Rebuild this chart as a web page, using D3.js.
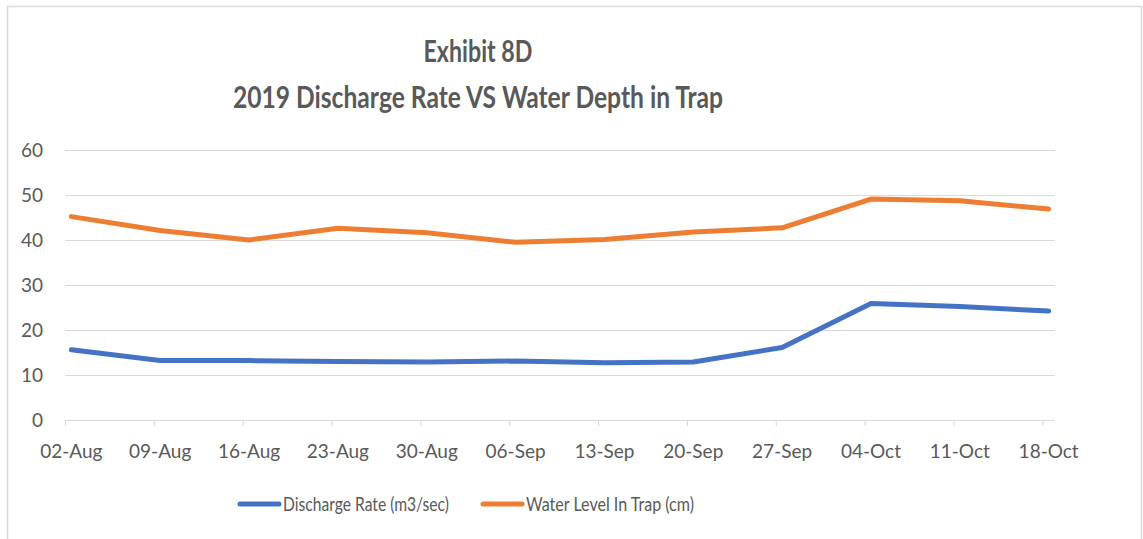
<!DOCTYPE html>
<html>
<head>
<meta charset="utf-8">
<script src="https://cdn.jsdelivr.net/npm/d3@7"></script>
<style>
  body { margin: 0; background: #fff; }
  text { font-family: Lato, sans-serif; fill: #595959; }
</style>
</head>
<body>
<div id="chart"></div>
<script>
var dates = ['2019-08-02','2019-08-09','2019-08-16','2019-08-23','2019-08-30','2019-09-06',
             '2019-09-13','2019-09-20','2019-09-27','2019-10-04','2019-10-11','2019-10-18'];
var discharge = [15.6, 13.2, 13.2, 13.0, 12.9, 13.1, 12.7, 12.9, 16.1, 25.9, 25.2, 24.2];
var waterLevel = [45.2, 42.1, 40.0, 42.6, 41.6, 39.5, 40.1, 41.8, 42.7, 49.1, 48.7, 46.9];
var seriesNames = ['Discharge Rate (m3/sec)', 'Water Level In Trap (cm)'];
var yTicks = [0, 10, 20, 30, 40, 50, 60];
var titleLines = ['Exhibit 8D', '2019 Discharge Rate VS Water Depth in Trap'];

var colors = ['#4472C4', '#ED7D31'];
var W = 1143, H = 539;
var parse = d3.utcParse('%Y-%m-%d');
var fmt = d3.utcFormat('%d-%b');
var days = dates.map(parse);

var svg = d3.select('#chart').append('svg')
    .attr('width', W).attr('height', H);

// chart frame
svg.append('rect')
    .attr('x', 7.5).attr('y', 6.5)
    .attr('width', 1134).attr('height', 560)
    .attr('fill', 'none').attr('stroke', '#d9d9d9').attr('stroke-width', 1.5);

// date axis, each day is one slot, points sit in the middle of their day
var x = d3.scaleUtc()
    .domain([days[0], d3.utcDay.offset(days[days.length - 1], 1)])
    .range([65, 1055]);
var y = d3.scaleLinear().domain([0, 60]).range([420, 150]);
var mid = function(d){ return x(d3.utcHour.offset(d, 12)); };

svg.append('g').attr('class', 'grid')
    .attr('transform', 'translate(65,0)')
    .call(d3.axisLeft(y).tickValues(yTicks).tickSize(-990).tickFormat(''))
    .call(g => g.select('.domain').remove())
    .call(g => g.selectAll('.tick line').attr('stroke', '#d9d9d9'));

svg.append('g').attr('class', 'y_axis')
    .attr('transform', 'translate(43,0)')
    .call(d3.axisLeft(y).tickValues(yTicks).tickSize(0).tickPadding(0))
    .call(g => g.select('.domain').remove())
    .call(g => g.selectAll('text').style('font-size', '19px').style('fill', '#595959'));

svg.append('g').attr('class', 'x_axis')
    .attr('transform', 'translate(0,420)')
    .call(d3.axisBottom(x).tickValues(days).tickSize(6).tickFormat(''))
    .call(g => g.select('.domain').attr('stroke', '#d9d9d9').attr('d', 'M65,0.5H1055'))
    .call(g => g.selectAll('.tick line').attr('stroke', '#d9d9d9'));

svg.append('g').selectAll('text')
    .data(days).enter().append('text')
    .attr('x', function(d){ return mid(d); })
    .attr('y', 458)
    .attr('text-anchor', 'middle')
    .style('font-size', '19px')
    .text(function(d){ return fmt(d); });

var line = d3.line()
    .x(function(d, i){ return mid(days[i]); })
    .y(function(d){ return y(d); });

svg.selectAll('path.series')
    .data([discharge, waterLevel]).enter()
    .append('path').attr('class', 'series')
    .attr('d', line)
    .attr('fill', 'none')
    .attr('stroke', function(d, i){ return colors[i]; })
    .attr('stroke-width', 5)
    .attr('stroke-linejoin', 'round')
    .attr('stroke-linecap', 'round');

// title (narrowed to the width of the original Calibri text)
var titleWidths = [109, 490];
svg.selectAll('text.title')
    .data(titleLines).enter().append('text')
    .attr('class', 'title')
    .attr('x', function(d, i){ return 478 - titleWidths[i] / 2; })
    .attr('y', function(d, i){ return 62 + i * 46; })
    .attr('textLength', function(d, i){ return titleWidths[i]; })
    .attr('lengthAdjust', 'spacingAndGlyphs')
    .style('font-size', '29.5px').style('font-weight', 'bold')
    .text(function(d){ return d; });

// legend
var legendX = [240, 483];
var legendW = [166, 168];
var lg = svg.selectAll('g.legend')
    .data(seriesNames).enter().append('g')
    .attr('class', 'legend')
    .attr('transform', function(d, i){ return 'translate(' + legendX[i] + ',504)'; });
lg.append('line')
    .attr('x1', 0).attr('x2', 39)
    .attr('stroke', function(d, i){ return colors[i]; })
    .attr('stroke-width', 5).attr('stroke-linecap', 'round');
lg.append('text')
    .attr('x', 43).attr('y', 7)
    .attr('textLength', function(d, i){ return legendW[i]; })
    .attr('lengthAdjust', 'spacingAndGlyphs')
    .style('font-size', '19.5px')
    .text(function(d){ return d; });
</script>
</body>
</html>
